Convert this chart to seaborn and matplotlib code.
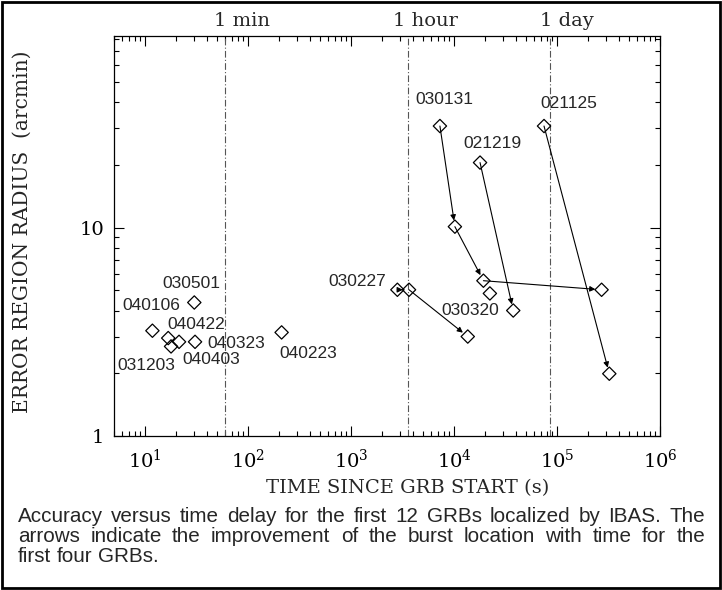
import numpy as np
import pandas as pd
import seaborn as sns
import matplotlib.pyplot as plt
from matplotlib.patches import Rectangle
from matplotlib.ticker import LogLocator, FuncFormatter, NullFormatter

sns.set_style("ticks")
plt.rcParams['font.family'] = ['DejaVu Serif']

# every IBAS position: burst name, time since trigger (s), error radius (arcmin)
pt_grb = ['021125', '021125',
          '021219', '021219',
          '030131', '030131', '030131', '030131',
          '030227', '030227', '030227',
          '030320', '030501', '031203', '040106', '040223', '040323', '040403', '040422']
pt_time = [74800, 322000,
           17900, 37600,
           7300, 10200, 19300, 271000,
           2820, 3660, 13600,
           22300, 30.1, 17.9, 11.8, 212, 30.6, 21.4, 16.8]
pt_radius = [30.7, 1.99,
             20.5, 4.0,
             30.7, 10.1, 5.56, 5.03,
             5.03, 5.03, 3.0,
             4.83, 4.37, 2.69, 3.2, 3.14, 2.83, 2.83, 2.95]

# bursts whose positions were refined (arrows)
arrow_grbs = ['021125', '021219', '030131', '030227']

mark_time = [60, 3600, 86400]
mark_label = ['1 min', '1 hour', '1 day']

caption_lines = [
    "Accuracy versus time delay for the first 12 GRBs localized by IBAS. The",
    "arrows indicate the improvement of the burst location with time for the",
    "first four GRBs.",
]

# label offsets (points) from the first point of each burst
label_off = {
    '021125': (18, 16), '021219': (9, 14), '030131': (3, 19), '030227': (-29, 6),
    '030320': (-14, -12), '030501': (-2, 14), '031203': (-18, -14), '040106': (-1, 18),
    '040223': (19, -15), '040323': (30, -1), '040403': (23, -13), '040422': (20, 10),
}

df = pd.DataFrame({"grb": pt_grb, "time": pt_time, "radius": pt_radius})

W, H = 722, 590
fig = plt.figure(figsize=(W / 100, H / 100), dpi=100)
ax = fig.add_axes([114 / W, 1 - 436 / H, 546 / W, 400 / H])

sns.scatterplot(data=df, x="time", y="radius", marker="D", s=46,
                facecolor="none", edgecolor="black", linewidth=0.9,
                legend=False, ax=ax, zorder=3)
ax.set_xscale("log")
ax.set_yscale("log")
ax.set_xlim(5, 1e6)
ax.set_ylim(1, 83)

for t in mark_time:
    ax.axvline(t, color="#555555", lw=0.8, ls=(0, (6, 2, 1, 2)), zorder=1)
for t, lab in zip(mark_time, mark_label):
    ax.annotate(lab, xy=(t, 1), xycoords=ax.get_xaxis_transform(),
                xytext=(12, 11), textcoords="offset points",
                ha="center", va="center", fontsize=14, annotation_clip=False)

for g in arrow_grbs:
    sub = df[df.grb == g]
    tt, rr = sub.time.values, sub.radius.values
    for i in range(len(tt) - 1):
        ax.annotate("", xy=(tt[i + 1], rr[i + 1]), xytext=(tt[i], rr[i]),
                    arrowprops=dict(arrowstyle="-|>", color="black", lw=0.8,
                                    shrinkA=0, shrinkB=4.5, mutation_scale=8),
                    zorder=2)

for g, sub in df.groupby("grb"):
    dx, dy = label_off[g]
    ax.annotate(g, xy=(sub.time.values[0], sub.radius.values[0]),
                xytext=(dx, dy), textcoords="offset points",
                ha="center", va="center", fontsize=12.5, family="Liberation Sans")

ax.xaxis.set_major_locator(LogLocator(base=10))
ax.xaxis.set_minor_locator(LogLocator(base=10, subs=np.arange(2, 10)))
ax.xaxis.set_major_formatter(FuncFormatter(lambda v, p: r"$\mathregular{10^{%d}}$" % round(np.log10(v))))
ax.xaxis.set_minor_formatter(NullFormatter())
ax.yaxis.set_major_locator(LogLocator(base=10))
ax.yaxis.set_minor_locator(LogLocator(base=10, subs=np.arange(2, 10)))
ax.yaxis.set_major_formatter(FuncFormatter(lambda v, p: "%g" % v))
ax.yaxis.set_minor_formatter(NullFormatter())

ax.tick_params(which="both", direction="in", top=True, right=True, width=0.8, colors="black")
ax.tick_params(which="major", length=7.5, labelsize=14)
ax.tick_params(which="minor", length=3.6)
ax.tick_params(axis="x", which="major", pad=9)
ax.tick_params(axis="y", which="major", pad=7)
for sp in ax.spines.values():
    sp.set_linewidth(0.9)
    sp.set_color("black")

ax.set_xlabel("TIME SINCE GRB START (s)", fontsize=14)
ax.xaxis.set_label_coords(0.538, -0.13)
ax.xaxis.label.set_va("center")
ax.set_ylabel("ERROR REGION RADIUS  (arcmin)", fontsize=14.5, va="center")
ax.yaxis.set_label_coords(-0.168, 0.51)

# justified caption under the plot
renderer = fig.canvas.get_renderer()
x0, x1 = 18 / W, 705 / W
cap_y = [517, 537, 556]
cap_kw = dict(fontsize=14.9, family="Liberation Sans", va="center", ha="left")
probe_a = fig.text(0, 0, "x x", **cap_kw)
probe_b = fig.text(0, 0, "xx", **cap_kw)
space = (probe_a.get_window_extent(renderer).width - probe_b.get_window_extent(renderer).width) / W
probe_a.remove()
probe_b.remove()
for i, line in enumerate(caption_lines):
    words = line.split()
    y = 1 - cap_y[i] / H
    items = [fig.text(0, y, w, **cap_kw) for w in words]
    widths = [t.get_window_extent(renderer).width / W for t in items]
    if i < len(caption_lines) - 1:
        gap = (x1 - x0 - sum(widths)) / (len(words) - 1)
    else:
        gap = space
    x = x0
    for t, w in zip(items, widths):
        t.set_x(x)
        x += w + gap

fig.patches.append(Rectangle((2 / W, 2 / H), 1 - 4 / W, 1 - 4 / H, transform=fig.transFigure,
                             fill=False, lw=2, edgecolor="black"))

fig.savefig("out.png", dpi=100)
